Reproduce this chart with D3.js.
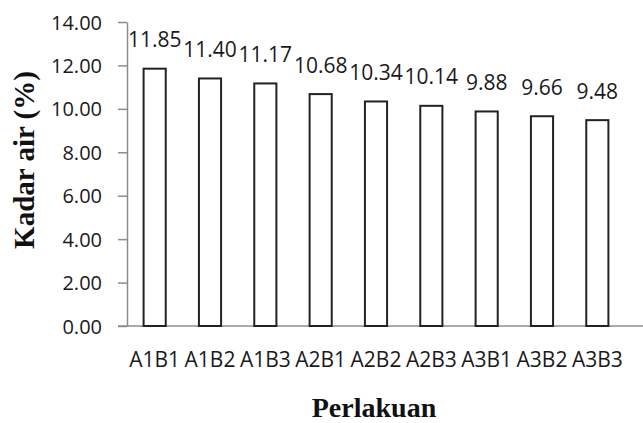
<!DOCTYPE html>
<html><head><meta charset="utf-8">
<script src="https://cdn.jsdelivr.net/npm/d3@7"></script>
<style>body{margin:0;background:#fff;}svg{display:block;}</style>
</head><body>
<script>
const categories = ["A1B1","A1B2","A1B3","A2B1","A2B2","A2B3","A3B1","A3B2","A3B3"];
const values = [11.85,11.40,11.17,10.68,10.34,10.14,9.88,9.66,9.48];
const yTicks = [0,2,4,6,8,10,12,14];

const W=643,H=423;
const svg=d3.select("body").append("svg").attr("width",W).attr("height",H);
const x=d3.scaleBand().domain(categories).range([127,625]).paddingInner(0.6).paddingOuter(0.3);
const y=d3.scaleLinear().domain([0,14]).range([326,22]);
const font="'Open Sans', 'Liberation Sans', sans-serif";
const serif="'Liberation Serif', 'DejaVu Serif', serif";

// y axis
const ya=svg.append("g").attr("transform","translate(127,0)")
  .call(d3.axisLeft(y).tickValues(yTicks).tickFormat(d3.format(".2f")).tickSize(9).tickSizeOuter(0));
ya.select(".domain").attr("stroke","#8c8c8c").attr("stroke-width",1.5);
ya.selectAll(".tick line").attr("stroke","#8c8c8c").attr("stroke-width",1.5);
ya.selectAll(".tick text").attr("font-family",font).attr("font-size",20).attr("fill","#1a1a1a").attr("x",-25).attr("dy","0.35em");

// x axis
const xa=svg.append("g").attr("transform","translate(0,326)")
  .call(d3.axisBottom(x).tickSize(0).tickSizeOuter(0));
xa.select(".domain").attr("d","M118,0H643").attr("stroke","#8c8c8c").attr("stroke-width",1.5);
xa.selectAll(".tick text").attr("font-family",font).attr("font-size",21).attr("fill","#1a1a1a").attr("dy","0").attr("y",41);

// bars
svg.append("g").selectAll("rect").data(values).join("rect")
  .attr("x",(d,i)=>x(categories[i])).attr("width",x.bandwidth())
  .attr("y",d=>y(d)).attr("height",d=>y(0)-y(d))
  .attr("fill","#fff").attr("stroke","#222").attr("stroke-width",2);

// labels
svg.append("g").selectAll("text").data(values).join("text")
  .attr("x",(d,i)=>x(categories[i])+x.bandwidth()/2)
  .attr("y",d=>y(d)-21.5)
  .attr("text-anchor","middle").attr("font-family",font).attr("font-size",21).attr("fill","#1a1a1a")
  .text(d=>d3.format(".2f")(d));

// titles
svg.append("text").attr("transform","translate(34,160) rotate(-90)").attr("text-anchor","middle")
  .attr("font-family",serif).attr("font-weight","bold").attr("font-size",29).attr("fill","#111")
  .text("Kadar air (%)");
svg.append("text").attr("x",374).attr("y",417).attr("text-anchor","middle")
  .attr("font-family",serif).attr("font-weight","bold").attr("font-size",28).attr("fill","#111")
  .text("Perlakuan");
</script>
</body></html>
